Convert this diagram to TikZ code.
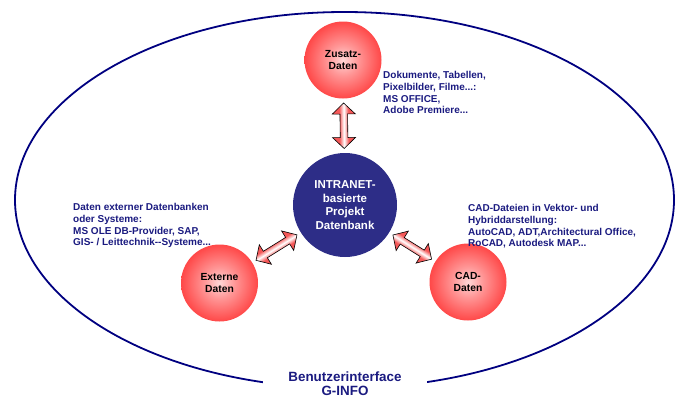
\documentclass[tikz,border=0pt]{standalone}
\usepackage{fontspec}
\setmainfont{Liberation Sans}
\usetikzlibrary{calc}
\definecolor{navy}{RGB}{0,0,128}
\definecolor{txtblue}{RGB}{26,26,128}
\definecolor{dbblue}{RGB}{45,45,135}
\definecolor{pkzero}{RGB}{255,214,214}
\definecolor{pkmid}{RGB}{255,150,150}
\definecolor{pkone}{RGB}{255,72,72}
\definecolor{arpk}{RGB}{245,88,88}
\pgfdeclareradialshading{pinkball}{\pgfpoint{0bp}{0bp}}{color(0bp)=(pkzero); color(10bp)=(pkmid); color(25bp)=(pkone); color(50bp)=(pkone)}
\pgfdeclareverticalshading{arrband}{100bp}{color(0bp)=(arpk); color(25bp)=(arpk); color(40bp)=(arpk); color(50bp)=(white); color(60bp)=(arpk); color(75bp)=(arpk); color(100bp)=(arpk)}
\tikzset{
  redball/.style={circle, shading=pinkball, inner sep=0pt, minimum size=77pt, align=center,
    font=\bfseries\fontsize{10.3}{11.8}\selectfont, text=black},
  dbball/.style={circle, fill=dbblue, inner sep=0pt, minimum size=104pt, align=center,
    font=\bfseries\fontsize{11.5}{13.6}\selectfont, text=white},
  desc/.style={text=txtblue, font=\bfseries\fontsize{10}{11.8}\selectfont, align=left, inner sep=0pt, anchor=north west},
  arrowfill/.style={draw=black, line width=0.6pt, shading=arrband, shading angle=0}
}
\newcommand\dblarr[2]{%
  \path let \p1=($(#2)-(#1)$) in \pgfextra{\pgfmathsetmacro\arrang{atan2(\y1,\x1)}\pgfmathsetmacro\arrlen{veclen(\x1,\y1)}\global\let\arrang\arrang\global\let\arrlen\arrlen};
  \begin{scope}[transform canvas={shift={(#1)}, rotate=\arrang}, x=1pt, y=1pt]
    \draw[arrowfill] (0,0) -- (11,11.5) -- (11,3.8) -- (\arrlen-11,3.8) -- (\arrlen-11,11.5) -- (\arrlen,0)
      -- (\arrlen-11,-11.5) -- (\arrlen-11,-3.8) -- (11,-3.8) -- (11,-11.5) -- cycle;
  \end{scope}}
\begin{document}
\begin{tikzpicture}[x=1pt, y=-1pt]
\useasboundingbox (0,0) rectangle (682,397);
\draw[navy, line width=1.8pt] (344.5,200) ellipse [x radius=329.5pt, y radius=188pt];

\node[redball] (zus) at (343,60) {Zusatz-\\Daten};
\node[dbball] (db) at (345,205) {INTRANET-\\basierte\\Projekt\\Datenbank};
\node[redball] (ext) at (219.5,283) {Externe\\Daten};
\node[redball] (cad) at (468,282) {CAD-\\Daten};

\coordinate (v1) at ($(zus.center)!43pt!(db.center)$);
\coordinate (v2) at ($(db.center)!56.5pt!(zus.center)$);
\coordinate (l1) at ($(ext.center)!43pt!(db.center)$);
\coordinate (l2) at ($(db.center)!56.5pt!(ext.center)$);
\coordinate (r1) at ($(cad.center)!43pt!(db.center)$);
\coordinate (r2) at ($(db.center)!56.5pt!(cad.center)$);
\dblarr{v1}{v2}
\dblarr{l1}{l2}
\dblarr{r1}{r2}

\node[desc] (tzus) at (383,71) {Dokumente, Tabellen,\\Pixelbilder, Filme...:\\MS OFFICE,\\Adobe Premiere...};
\node[desc] (text) at (73,203) {Daten externer Datenbanken\\oder Systeme:\\MS OLE DB-Provider, SAP,\\GIS- / Leittechnik-{}-Systeme...};
\node[desc] (tcad) at (468,204) {CAD-Dateien in Vektor- und\\Hybriddarstellung:\\AutoCAD, ADT,Architectural Office,\\RoCAD, Autodesk MAP...};

\node[fill=white, inner xsep=25pt, inner ysep=2pt, text=txtblue, align=center,
  font=\bfseries\fontsize{13.4}{14}\selectfont] (ui) at (345,383.5) {Benutzerinterface\\G-INFO};
\end{tikzpicture}
\end{document}
